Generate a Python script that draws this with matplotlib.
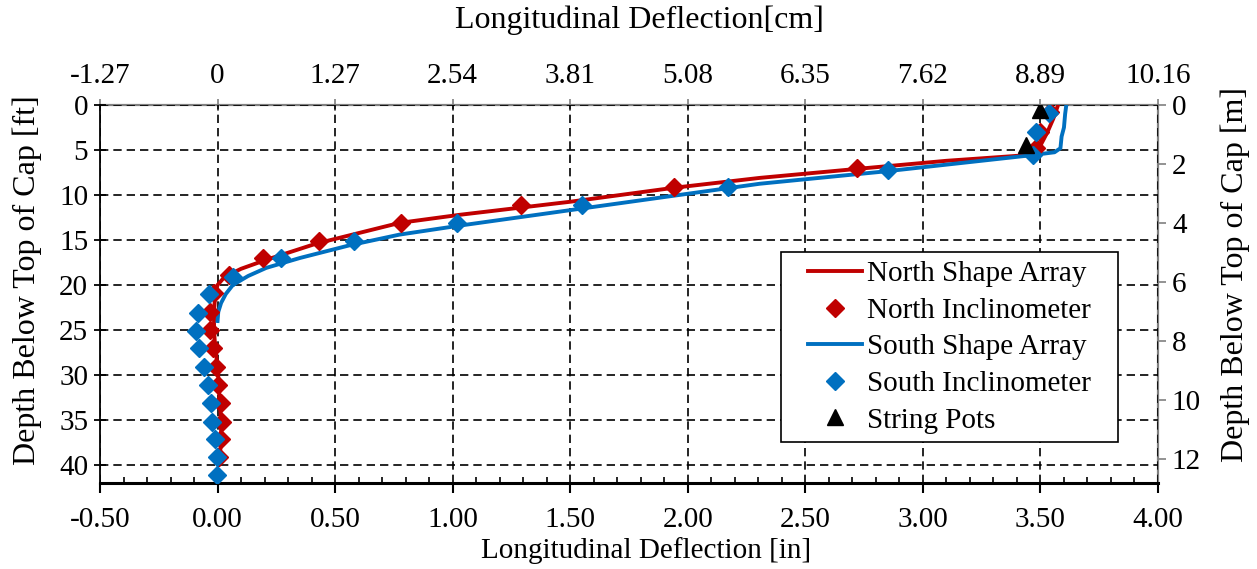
import matplotlib
matplotlib.use("Agg")
import matplotlib.pyplot as plt
from matplotlib.patches import Rectangle
from matplotlib.transforms import IdentityTransform
from matplotlib.ticker import MultipleLocator, FormatStrFormatter

plt.rcParams['font.family'] = ['Liberation Serif', 'DejaVu Serif']

# ---- data (deflection in inches, depth in feet below top of cap) ----
north_sa_depth = [39.0, 37.0, 35.0, 33.0, 31.0, 29.0, 27.0, 25.0, 23.0, 21.0, 20.0,
                  19.1, 18.2, 17.2, 15.4, 13.1, 12.2, 10.75, 9.2, 8.1, 7.1, 6.2,
                  5.55, 5.35, 4.5, 3.0, 1.5, 0.0]
north_sa_defl = [0.01, 0.015, 0.015, 0.01, 0.005, 0.0, -0.01, -0.015, -0.015, -0.01, 0.0,
                 0.03, 0.10, 0.207, 0.42, 0.774, 1.03, 1.50, 1.94, 2.306, 2.72, 3.10,
                 3.455, 3.49, 3.50, 3.53, 3.555, 3.575]

north_inc_depth = [0.8, 3.0, 4.8, 7.0, 9.15, 11.1, 13.1, 15.1, 17.0, 18.9,
                   20.9, 23.0, 25.0, 27.0, 29.1, 31.1, 33.1, 35.2, 37.1, 39.1]
north_inc_defl = [3.54, 3.50, 3.48, 2.72, 1.94, 1.29, 0.78, 0.43, 0.195, 0.05,
                  -0.013, -0.034, -0.034, -0.02, -0.006, 0.004, 0.013, 0.02, 0.015, 0.008]

south_sa_depth = [24.0, 23.0, 22.0, 21.0, 20.0, 19.0, 18.1, 17.0, 15.6, 14.4, 13.4,
                  11.5, 8.75, 7.35, 5.6, 5.25, 4.8, 3.5, 2.5, 1.0, 0.0]
south_sa_defl = [0.0, 0.003, 0.015, 0.035, 0.065, 0.13, 0.207, 0.35, 0.56, 0.774, 1.03,
                 1.55, 2.306, 2.85, 3.455, 3.56, 3.585, 3.59, 3.60, 3.605, 3.61]

south_inc_depth = [0.9, 3.0, 5.6, 7.2, 9.15, 11.1, 13.1, 15.1, 17.0, 19.1, 21.0,
                   23.1, 25.1, 27.0, 29.1, 31.1, 33.1, 35.2, 37.1, 39.1, 41.1]
south_inc_defl = [3.535, 3.48, 3.47, 2.85, 2.17, 1.55, 1.02, 0.58, 0.27, 0.065, -0.037,
                  -0.084, -0.091, -0.077, -0.058, -0.041, -0.027, -0.023, -0.01, -0.001, -0.001]

string_pot_depth = [0.5, 4.4]
string_pot_defl = [3.50, 3.44]

cm_ticks = [-1.27, 0.0, 1.27, 2.54, 3.81, 5.08, 6.35, 7.62, 8.89, 10.16]
cm_labels = ['-1.27', '0', '1.27', '2.54', '3.81', '5.08', '6.35', '7.62', '8.89', '10.16']
m_ticks = [0, 2, 4, 6, 8, 10, 12]

IN_TO_CM = 2.54
FT_TO_M = 0.3048

RED = '#C00000'
BLUE = '#0070C0'
GRAY = '#808080'
FS = 21
FS_TITLE = 23

fig = plt.figure(figsize=(12.57, 5.69), dpi=100)
ax = fig.add_axes([100 / 1257, 1 - 483 / 569, 1058 / 1257, 378 / 569])

ax.plot(north_sa_defl, north_sa_depth, color=RED, lw=2.8, label='North Shape Array', zorder=3)
ax.plot(north_inc_defl, north_inc_depth, ls='none', marker='D', ms=9, color=RED,
        label='North Inclinometer', zorder=4)
ax.plot(south_sa_defl, south_sa_depth, color=BLUE, lw=2.8, label='South Shape Array', zorder=3)
ax.plot(south_inc_defl, south_inc_depth, ls='none', marker='D', ms=9, color=BLUE,
        label='South Inclinometer', zorder=5)
ax.plot(string_pot_defl, string_pot_depth, ls='none', marker='^', ms=12, color='black',
        label='String Pots', zorder=6)

ax.set_xlim(-0.5, 4.0)
ax.set_ylim(42, 0)
ax.xaxis.set_major_locator(MultipleLocator(0.5))
ax.xaxis.set_minor_locator(MultipleLocator(0.1))
ax.xaxis.set_major_formatter(FormatStrFormatter('%.2f'))
ax.yaxis.set_major_locator(MultipleLocator(5))

ax.grid(True, which='major', color='black', linestyle=(0, (5, 3)), linewidth=1.2, zorder=1)
ax.set_axisbelow(True)

ax.spines['top'].set_visible(False)
ax.spines['right'].set_visible(False)
ax.spines['bottom'].set_linewidth(2.2)
ax.spines['left'].set_linewidth(1.3)

ax.tick_params(axis='x', which='major', direction='out', length=7, width=1.5,
               labelsize=FS, pad=10.5)
ax.tick_params(axis='x', which='minor', direction='in', length=4, width=1.2)
ax.tick_params(axis='y', which='major', direction='inout', length=9, width=1.3,
               labelsize=FS, pad=4)

ax.set_xlabel('Longitudinal Deflection [in]', fontsize=FS)
ax.xaxis.set_label_coords((646 - 100) / 1058, 1 - (537 - 105) / 378)
ax.set_ylabel('Depth Below Top of Cap [ft]', fontsize=FS_TITLE)
ax.yaxis.set_label_coords((42 - 100) / 1058, 1 - (280 - 105) / 378)

# secondary axes in metric units
secx = ax.secondary_xaxis('top', functions=(lambda x: x * IN_TO_CM, lambda c: c / IN_TO_CM))
secx.set_xticks(cm_ticks, labels=cm_labels)
secx.spines['top'].set_color(GRAY)
secx.spines['top'].set_linewidth(1.6)
secx.tick_params(axis='x', direction='inout', length=9, width=1.2, color=GRAY,
                 labelsize=FS, pad=7)
secx.set_xlabel('Longitudinal Deflection[cm]', fontsize=FS_TITLE)
secx.xaxis.set_label_coords((639 - 100) / 1058, 1 + (105 - 28) / 378,
                            transform=ax.transAxes)

secy = ax.secondary_yaxis('right', functions=(lambda d: d * FT_TO_M, lambda m: m / FT_TO_M))
secy.set_yticks(m_ticks)
secy.spines['right'].set_color(GRAY)
secy.spines['right'].set_linewidth(1.6)
secy.tick_params(axis='y', direction='out', length=6, width=1.2, color=GRAY,
                 labelsize=FS, pad=4)
secy.set_ylabel('Depth Below Top of Cap [m]', fontsize=FS_TITLE)
secy.yaxis.set_label_coords((1221 - 100) / 1058, 1 - (275 - 105) / 378,
                            transform=ax.transAxes)

leg = ax.legend(loc='upper right', bbox_to_anchor=((1100 - 100) / 1058, 1 - (252 - 105) / 378),
                borderaxespad=0, fontsize=FS, numpoints=1, handlelength=1.85,
                handletextpad=0.2, labelspacing=0.35, borderpad=0.3, frameon=False)
leg.set_zorder(8)

# legend frame with wider side margins than the built-in border padding gives
fig.canvas.draw()
bb = leg.get_window_extent()
side = 18
frame = Rectangle((bb.x0 - side, bb.y0), bb.width + 2 * side, bb.height,
                  transform=IdentityTransform(), facecolor='white', edgecolor='black',
                  linewidth=1.2, zorder=7)
ax.add_artist(frame)

fig.savefig('out.png', dpi=100)
